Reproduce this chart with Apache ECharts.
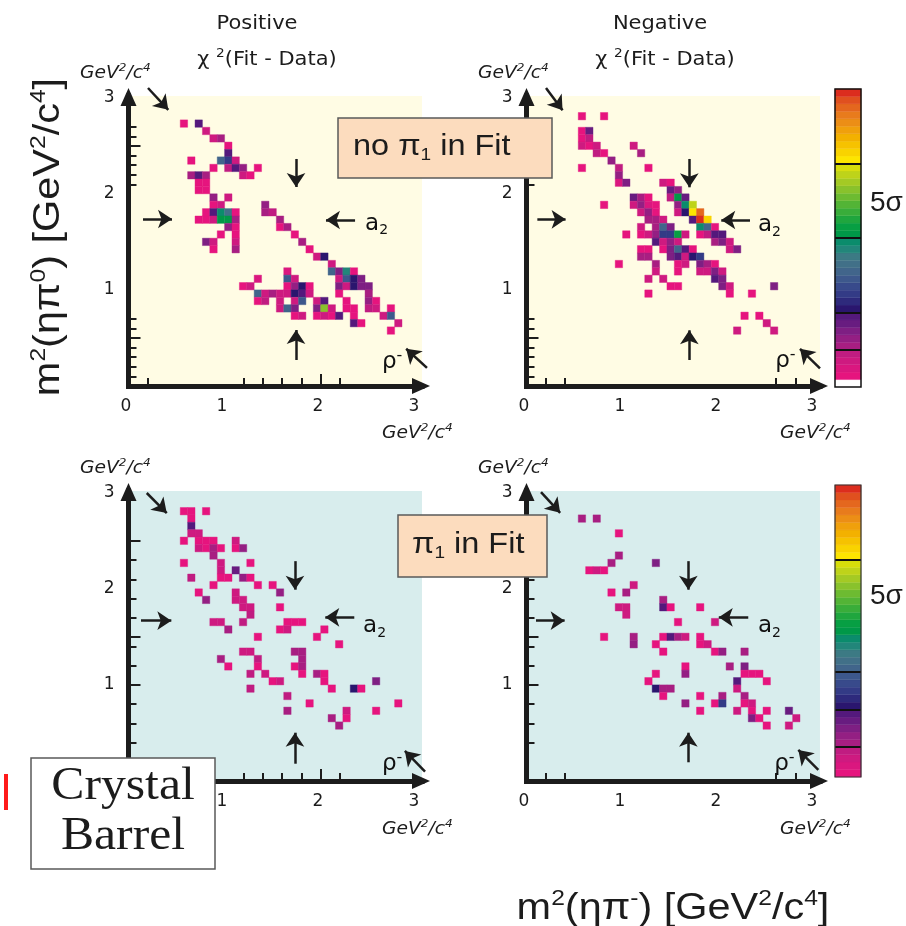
<!DOCTYPE html>
<html>
<head>
<meta charset="utf-8">
<title>Dalitz plot chi-square maps</title>
<script src="https://cdn.jsdelivr.net/npm/echarts@6.0.0/dist/echarts.min.js"></script>
<style>
  html, body { margin: 0; padding: 0; background: #ffffff; }
  #chart { width: 906px; height: 926px; }
</style>
</head>
<body>
<div id="chart"></div>
<script>
// Bin width of the Dalitz plot cells, in GeV^2/c^4
const BIN = 0.077;

// Colour scale, lowest level (white) first, highest (red) last
const palette = [
  '#ffffff',
  '#e6147e', '#da177f', '#ce1a80', '#c01c81',
  '#a81e82', '#941f83', '#7e1f83', '#681c80', '#54197c',
  '#2a166e', '#2e2a7c', '#333b86', '#384a8b', '#3d588c', '#41658b', '#417088', '#3c7a84', '#22867a', '#0b8c6c',
  '#009848', '#079f43', '#1fa63e', '#39ad3a', '#53b436', '#6dbb31', '#89c22c', '#a4ca24', '#bed31a', '#d7dd0b',
  '#fde500', '#f9d300', '#f6c200', '#f3b100', '#f0a00c', '#ec8e16', '#e87b1c', '#e4671e', '#e0501f', '#dc2d1e'
];

// Cells: [m²(ηπ⁻) bin, m²(ηπ⁰) bin, colour level]
const cellsPosNoPi1 = [
  [7,35,1],[9,35,9],
  [10,34,3],
  [11,33,3],[12,33,5],
  [13,32,1],
  [13,31,9],
  [8,30,1],[12,30,15],[13,30,12],[14,30,3],
  [11,29,1],[13,29,4],[14,29,9],[15,29,6],[17,29,1],
  [8,28,5],[9,28,9],[10,28,5],[15,28,3],[16,28,1],
  [9,27,1],[10,27,1],
  [9,26,1],[10,26,1],
  [11,25,6],[13,25,3],
  [11,24,1],[12,24,3],[18,24,6],
  [10,23,1],[11,23,9],[12,23,19],[13,23,16],[14,23,1],[18,23,5],[19,23,4],
  [9,22,1],[10,22,1],[11,22,3],[12,22,20],[13,22,20],[14,22,5],[20,22,5],
  [13,21,6],[14,21,1],[20,21,1],[21,21,5],
  [12,20,1],[14,20,1],[22,20,1],
  [10,19,7],[11,19,3],[14,19,3],[23,19,5],
  [11,18,1],[14,18,5],[24,18,1],
  [25,17,3],[26,17,10],
  [27,16,3],
  [21,15,2],[27,15,15],[28,15,7],[29,15,18],[30,15,1],
  [17,14,2],[21,14,14],[22,14,3],[28,14,3],[29,14,14],[30,14,10],[31,14,7],
  [15,13,1],[16,13,3],[21,13,1],[22,13,6],[23,13,10],[24,13,1],[28,13,7],[29,13,3],[30,13,10],[31,13,7],[32,13,7],
  [17,12,15],[18,12,3],[19,12,5],[20,12,3],[21,12,3],[22,12,10],[23,12,9],[24,12,3],[28,12,1],[32,12,5],
  [17,11,1],[18,11,4],[20,11,3],[22,11,3],[23,11,14],[25,11,3],[26,11,9],[29,11,1],[32,11,6],[33,11,1],
  [20,10,3],[21,10,15],[22,10,7],[25,10,7],[26,10,26],[27,10,3],[29,10,1],[30,10,1],[32,10,4],[33,10,3],[35,10,1],
  [22,9,1],[23,9,3],[25,9,1],[26,9,3],[27,9,1],[28,9,9],[30,9,1],[34,9,3],[35,9,14],
  [30,8,9],[31,8,1],[36,8,3],
  [35,7,1]
];

const cellsNegNoPi1 = [
  [7,36,1],[10,36,1],
  [7,34,1],[8,34,8],
  [7,33,1],[8,33,4],
  [7,32,3],[8,32,1],[9,32,3],[14,32,3],
  [9,31,4],[10,31,1],[15,31,5],
  [11,30,6],
  [7,29,1],[12,29,4],[16,29,1],
  [12,28,6],
  [12,27,2],[13,27,7],[18,27,3],[19,27,1],
  [19,26,8],[20,26,6],
  [14,25,8],[15,25,5],[16,25,1],[19,25,4],[20,25,20],[21,25,8],
  [10,24,1],[14,24,3],[15,24,6],[16,24,2],[17,24,1],[20,24,6],[21,24,19],[22,24,28],
  [15,23,3],[16,23,6],[17,23,1],[20,23,3],[21,23,10],[22,23,30],[23,23,37],
  [16,22,5],[17,22,5],[18,22,3],[22,22,9],[23,22,39],[24,22,31],
  [15,21,3],[17,21,5],[18,21,15],[19,21,7],[23,21,19],[24,21,15],[25,21,1],
  [13,20,1],[15,20,1],[16,20,3],[17,20,6],[18,20,12],[19,20,12],[20,20,21],[21,20,3],[23,20,1],[24,20,4],[25,20,9],[26,20,9],
  [17,19,9],[18,19,3],[19,19,6],[20,19,3],[25,19,5],[26,19,7],[27,19,3],
  [15,18,1],[16,18,1],[18,18,1],[19,18,7],[20,18,15],[21,18,9],[22,18,1],[27,18,3],[28,18,7],
  [15,17,5],[16,17,5],[19,17,7],[20,17,9],[21,17,3],[22,17,10],[23,17,12],
  [12,16,1],[17,16,5],[20,16,1],[21,16,3],[23,16,7],[24,16,5],[25,16,1],
  [17,15,3],[20,15,1],[23,15,3],[24,15,3],[25,15,7],[26,15,3],
  [16,14,3],[18,14,3],[25,14,9],[26,14,7],
  [19,13,1],[20,13,1],[26,13,7],[27,13,3],[33,13,7],
  [16,12,1],[27,12,1],[30,12,1],
  [29,9,1],[31,9,1],
  [32,8,3],
  [28,7,3],[33,7,3]
];

const cellsPosPi1 = [
  [7,36,1],[8,36,1],[10,36,1],
  [8,35,1],
  [8,34,9],
  [8,33,3],[9,33,3],
  [7,32,1],[9,32,1],[10,32,1],[11,32,1],[14,32,3],
  [9,31,3],[10,31,1],[11,31,5],[12,31,1],[14,31,1],[15,31,6],
  [11,30,5],
  [7,29,1],[12,29,3],[16,29,1],
  [12,28,3],[14,28,8],
  [8,27,4],[12,27,1],[13,27,1],[15,27,6],[16,27,1],
  [11,26,1],[17,26,1],[19,26,1],
  [9,25,1],[14,25,3],[20,25,6],
  [10,24,6],[14,24,3],[15,24,3],
  [15,23,3],[16,23,3],[20,23,1],
  [16,22,4],
  [11,21,3],[12,21,3],[15,21,4],[21,21,1],[22,21,1],[23,21,1],
  [13,20,5],[20,20,1],[21,20,3],[26,20,1],
  [17,19,1],[25,19,1],
  [28,18,1],
  [15,17,3],[16,17,3],[22,17,5],[23,17,5],
  [12,16,5],[17,16,4],[23,16,5],
  [13,15,1],[17,15,1],[22,15,1],[23,15,5],
  [16,14,4],[18,14,3],[23,14,1],[25,14,5],[26,14,1],
  [19,13,1],[20,13,3],[26,13,1],[33,13,7],
  [16,12,4],[27,12,1],[30,12,10],[31,12,1],
  [21,11,4],
  [24,10,1],[36,10,1],
  [21,9,5],[29,9,3],[33,9,1],
  [27,8,5],[29,8,1],
  [28,7,5]
];

const cellsNegPi1 = [
  [7,35,5],[9,35,5],
  [12,33,1],
  [12,30,5],
  [11,29,5],[17,29,7],
  [8,28,1],[9,28,3],[10,28,1],
  [14,26,3],
  [11,25,1],[13,25,5],
  [18,24,5],
  [12,23,3],[13,23,3],[18,23,9],[19,23,1],[23,23,1],
  [13,22,3],
  [20,21,1],[25,21,3],
  [10,19,1],[14,19,5],[18,19,1],[19,19,9],[20,19,5],[21,19,3],[23,19,1],
  [14,18,6],[17,18,1],[23,18,1],[24,18,3],
  [18,17,1],[25,17,1],[26,17,6],[29,17,5],
  [21,15,1],[27,15,5],[29,15,7],
  [17,14,1],[21,14,6],[29,14,1],[30,14,1],[31,14,1],
  [16,13,1],[28,13,9],[32,13,1],
  [17,12,10],[18,12,5],[19,12,5],[28,12,3],
  [18,11,1],[23,11,1],[26,11,5],[29,11,5],
  [21,10,6],[25,10,1],[26,10,12],[29,10,1],[30,10,3],
  [23,9,1],[28,9,3],[30,9,1],[32,9,1],[35,9,8],
  [30,8,7],[31,8,1],[36,8,3],
  [32,7,1],[35,7,3]
];

// Colour-bar levels and the black separators between sigma bands
const barLevelsTop = [0,1,2,3,4,5,6,7,8,9,10,11,12,13,14,15,16,17,18,19,20,21,22,23,24,25,26,27,28,29,30,31,32,33,34,35,36,37,38,39];
const barSeparatorsTop = [5, 10, 20, 30];
const barLevelsBottom = [1,2,3,4,5,6,7,8,9,10,11,12,13,14,15,16,17,18,19,20,21,22,23,24,25,26,27,28,29,30,31,32,33,34,35,36,37,38,39];
const barSeparatorsBottom = [5, 10, 15, 30];

// Axis label values and tick positions (GeV^2/c^4)
const xLabelValues = [0, 1, 2, 3];
const yLabelValues = [1, 2, 3];
const ticksPosNoPi1 = { xMinor: [0.2, 1.2, 1.4, 1.6, 1.8, 2.2], xMajor: [2.0],
  yMinor: [0.1, 0.2, 0.3, 0.4, 0.6, 0.7, 2.1, 2.2, 2.3, 2.4, 2.6, 2.7], yMajor: [0.5, 2.5] };
const ticksNegNoPi1 = { xMinor: [0.2, 0.4, 2.6, 2.8], xMajor: [],
  yMinor: [0.1, 0.2, 0.3, 0.4, 0.6, 0.7, 2.1, 2.2, 2.3, 2.4, 2.6, 2.7], yMajor: [0.5, 2.5] };
const ticksPosPi1 = { xMinor: [0.2, 1.2, 1.4, 1.6, 1.8, 2.2], xMajor: [2.0],
  yMinor: [0.4, 0.6, 0.8, 1.2, 1.4, 1.7, 1.9, 2.1, 2.3], yMajor: [1.0, 1.5, 2.5] };
const ticksNegPi1 = { xMinor: [0.2, 0.4, 2.6, 2.8], xMajor: [],
  yMinor: [0.4, 0.6, 0.8, 1.2, 1.4, 1.7, 1.9, 2.1, 2.3], yMajor: [1.0, 1.5, 2.5] };

// Arrows pointing at the bands: [x0, y0, xTip, yTip]
const arrowsPosNoPi1 = [
  [0.203, 3.104, 0.464, 2.823], [1.745, 2.365, 1.745, 2.0], [2.36, 1.729, 1.984, 1.729],
  [0.151, 1.74, 0.526, 1.74], [1.745, 0.271, 1.745, 0.656], [3.109, 0.188, 2.839, 0.438]
];
const arrowsNegNoPi1 = [
  [0.203, 3.104, 0.419, 2.813], [1.696, 2.365, 1.696, 1.997], [2.328, 1.729, 1.956, 1.729],
  [0.113, 1.736, 0.48, 1.736], [1.696, 0.271, 1.696, 0.653], [3.057, 0.184, 2.797, 0.438]
];
const arrowsPosPi1 = [
  [0.19, 3.0, 0.45, 2.74], [1.734, 2.29, 1.734, 1.92], [2.352, 1.705, 1.977, 1.705],
  [0.13, 1.67, 0.519, 1.67], [1.734, 0.18, 1.734, 0.576], [3.089, 0.097, 2.828, 0.365]
];
const arrowsNegPi1 = [
  [0.151, 3.01, 0.4, 2.74], [1.686, 2.29, 1.686, 1.92], [2.31, 1.705, 1.93, 1.705],
  [0.099, 1.67, 0.47, 1.67], [1.686, 0.195, 1.686, 0.576], [3.04, 0.115, 2.78, 0.375]
];

// Band name positions: a2 and rho-
const a2Labels = [[2.454, 1.69], [2.40, 1.677], [2.433, 1.615], [2.40, 1.615]];
const rhoLabels = [[2.63, 0.25], [2.58, 0.26], [2.63, 0.177], [2.57, 0.177]];

// ---- layout ----
const INK = '#1c1c1c';
const SANS = 'DejaVu Sans';
const PX = 96;                       // pixels per GeV^2/c^4
const X_MAX = 3.057, Y_MAX = 3.021;  // axis extents
const layout = [
  { ox: 128.5, oy: 386, bg: '#fffce4' },
  { ox: 526.5, oy: 386, bg: '#fffce4' },
  { ox: 128.5, oy: 781, bg: '#d8eded' },
  { ox: 526.5, oy: 781, bg: '#d8eded' }
];
const panels = [
  { cells: cellsPosNoPi1, ticks: ticksPosNoPi1, arrows: arrowsPosNoPi1 },
  { cells: cellsNegNoPi1, ticks: ticksNegNoPi1, arrows: arrowsNegNoPi1 },
  { cells: cellsPosPi1, ticks: ticksPosPi1, arrows: arrowsPosPi1 },
  { cells: cellsNegPi1, ticks: ticksNegPi1, arrows: arrowsNegPi1 }
];

const grid = layout.map(g => ({
  left: g.ox, top: g.oy - Y_MAX * PX, width: X_MAX * PX, height: Y_MAX * PX,
  show: true, backgroundColor: g.bg, borderWidth: 0, containLabel: false, outerBoundsMode: 'none'
}));
grid.push({ left: 835, top: 89, width: 26, height: 298, containLabel: false, outerBoundsMode: 'none' });
grid.push({ left: 835, top: 485, width: 26, height: 292, containLabel: false, outerBoundsMode: 'none' });

const axisLine = {
  show: true, onZero: false, symbol: ['none', 'triangle'], symbolSize: [16, 18], symbolOffset: [0, -1],
  lineStyle: { color: INK, width: 5, cap: 'square' }
};
const tickSet = (vals, len) => ({
  show: vals.length > 0, inside: true, length: len, customValues: vals, lineStyle: { color: INK, width: 2 }
});
const labelSet = (vals, margin) => ({
  show: true, customValues: vals, margin: margin, color: INK, fontSize: 17, fontFamily: SANS
});

const xAxis = [], yAxis = [];
panels.forEach((p, k) => {
  const xb = { gridIndex: k, type: 'value', min: 0, max: X_MAX, position: 'bottom', splitLine: { show: false } };
  const yb = { gridIndex: k, type: 'value', min: 0, max: Y_MAX, position: 'left', splitLine: { show: false } };
  xAxis.push(Object.assign({}, xb, { axisLine: axisLine, axisTick: tickSet(p.ticks.xMinor, 8),
    axisLabel: Object.assign(labelSet(xLabelValues, 12), { padding: [0, 5, 0, 0] }) }));
  xAxis.push(Object.assign({}, xb, { axisLine: { show: false }, axisTick: tickSet(p.ticks.xMajor, 12), axisLabel: { show: false } }));
  yAxis.push(Object.assign({}, yb, { axisLine: axisLine, axisTick: tickSet(p.ticks.yMinor, 8),
    axisLabel: labelSet(yLabelValues, 14) }));
  yAxis.push(Object.assign({}, yb, { axisLine: { show: false }, axisTick: tickSet(p.ticks.yMajor, 12), axisLabel: { show: false } }));
});
// colour bars
xAxis.push({ gridIndex: 4, type: 'value', min: 0, max: 1, show: false });
xAxis.push({ gridIndex: 5, type: 'value', min: 0, max: 1, show: false });
yAxis.push({ gridIndex: 4, type: 'value', min: 0, max: 40, show: false });
yAxis.push({ gridIndex: 5, type: 'value', min: 1, max: 40, show: false });

function renderCell(params, api) {
  const x = api.value(0), y = api.value(1), lvl = api.value(2);
  const p0 = api.coord([x, y + BIN]);
  const p1 = api.coord([x + BIN, y]);
  return {
    type: 'rect',
    shape: { x: p0[0], y: p0[1], width: p1[0] - p0[0], height: p1[1] - p0[1] },
    style: { fill: palette[lvl], stroke: palette[lvl], lineWidth: 0.4 }
  };
}
function renderBand(params, api) {
  const lvl = api.value(1);
  const p0 = api.coord([0, lvl + 1]);
  const p1 = api.coord([1, lvl]);
  return {
    type: 'rect',
    shape: { x: p0[0], y: p0[1], width: p1[0] - p0[0], height: p1[1] - p0[1] },
    style: { fill: palette[lvl], stroke: palette[lvl], lineWidth: 0.4 }
  };
}
// arrow head is centred on its end point, so step back half a head length
const HEAD = 14;
function headCentre(a) {
  const dx = a[2] - a[0], dy = a[3] - a[1];
  const len = Math.sqrt(dx * dx + dy * dy) * PX;
  const back = (HEAD / 2) / len;
  return [a[2] - dx * back, a[3] - dy * back];
}

const bandLabel = {
  show: true, position: 'right', distance: 0, color: '#111111', opacity: 1,
  fontSize: 23, fontFamily: SANS, lineHeight: 28, textBorderWidth: 0,
  rich: {
    s: { fontSize: 14, lineHeight: 14, verticalAlign: 'bottom', fontFamily: SANS, color: '#111111' },
    p: { fontSize: 16, lineHeight: 16, verticalAlign: 'top', fontFamily: SANS, color: '#111111' }
  }
};

const series = [];
panels.forEach((p, k) => {
  series.push({
    type: 'custom', xAxisIndex: 2 * k, yAxisIndex: 2 * k, renderItem: renderCell, silent: true, z: 3,
    encode: { x: 0, y: 1 }, clip: false,
    data: p.cells.map(c => [c[0] * BIN, c[1] * BIN, c[2]])
  });
  series.push({
    type: 'lines', coordinateSystem: 'cartesian2d', xAxisIndex: 2 * k, yAxisIndex: 2 * k,
    silent: true, clip: false, z: 4, symbol: ['none', 'arrow'], symbolSize: HEAD,
    lineStyle: { color: INK, width: 2.5, opacity: 1, curveness: 0 },
    data: p.arrows.map(a => ({ coords: [[a[0], a[1]], headCentre(a)] }))
  });
  series.push({
    type: 'scatter', xAxisIndex: 2 * k, yAxisIndex: 2 * k, silent: true, z: 5,
    symbol: 'circle', symbolSize: 2,
    itemStyle: { color: 'rgba(0,0,0,0)', opacity: 1 },
    label: bandLabel,
    data: [
      { value: a2Labels[k], label: Object.assign({}, bandLabel, { formatter: 'a{s|2}' }) },
      { value: rhoLabels[k], label: Object.assign({}, bandLabel, { formatter: 'ρ{p|-}' }) }
    ]
  });
});
[[barLevelsTop, barSeparatorsTop, 8], [barLevelsBottom, barSeparatorsBottom, 9]].forEach(([levels, seps, idx]) => {
  series.push({
    type: 'custom', xAxisIndex: idx, yAxisIndex: idx, renderItem: renderBand, silent: true, z: 3,
    encode: { x: 0, y: 1 }, data: levels.map(l => [0, l])
  });
  series.push({
    type: 'lines', coordinateSystem: 'cartesian2d', xAxisIndex: idx, yAxisIndex: idx, silent: true, clip: false, z: 4,
    symbol: ['none', 'none'], lineStyle: { color: '#111111', width: 2, opacity: 1 },
    data: seps.map(v => ({ coords: [[0, v], [1, v]] }))
  });
});

// ---- text and frames ----
function text(x, y, str, size, extra) {
  extra = extra || {};
  return Object.assign({
    type: 'text', x: x, y: y, z: 120, silent: true,
    style: Object.assign({
      text: str, fill: INK, fontSize: size, fontFamily: SANS, align: 'center', verticalAlign: 'middle'
    }, extra.style || {})
  }, extra.el || {});
}
const sup = (size, family, style) => ({ fontSize: size, lineHeight: size, verticalAlign: 'top', fontFamily: family, fontStyle: style || 'normal', fill: INK });
const sub = (size, family) => ({ fontSize: size, lineHeight: size, verticalAlign: 'bottom', fontFamily: family, fill: INK });

const unitStyle = { align: 'left', fontStyle: 'italic', lineHeight: 22, rich: { s: sup(11, SANS, 'italic') } };
const unitPos = [[80, 74], [478, 74], [80, 469], [478, 469], [382, 434], [780, 434], [382, 830], [780, 830]];

const graphic = [];
graphic.push(text(257, 24, 'Positive', 20, { el: { scaleX: 1.05 } }));
graphic.push(text(267, 60, 'χ {s|2}(Fit - Data)', 20, { style: { lineHeight: 26, rich: { s: sup(13, SANS) } }, el: { scaleX: 1.05 } }));
graphic.push(text(660, 24, 'Negative', 20, { el: { scaleX: 1.05 } }));
graphic.push(text(665, 60, 'χ {s|2}(Fit - Data)', 20, { style: { lineHeight: 26, rich: { s: sup(13, SANS) } }, el: { scaleX: 1.05 } }));
unitPos.forEach(u => graphic.push(text(u[0], u[1], 'GeV{s|2}/c{s|4}', 17, { style: unitStyle, el: { scaleX: 1.1 } })));

// axis titles
const bigRich = { s: sup(22, 'Liberation Sans') };
graphic.push(text(49, 237, 'm{s|2}(ηπ{s|0}) [GeV{s|2}/c{s|4}]', 37, {
  style: { fontFamily: 'Liberation Sans', lineHeight: 42, rich: bigRich },
  el: { rotation: Math.PI / 2, scaleX: 1.12 }
}));
graphic.push(text(673, 909, 'm{s|2}(ηπ{s|-}) [GeV{s|2}/c{s|4}]', 37, {
  style: { fontFamily: 'Liberation Sans', lineHeight: 42, rich: bigRich },
  el: { scaleX: 1.12 }
}));

// fit condition boxes
graphic.push({ type: 'rect', z: 110, silent: true, shape: { x: 338, y: 118, width: 214, height: 60 },
  style: { fill: '#fcdcbe', stroke: '#5a5a5a', lineWidth: 1.5 } });
graphic.push(text(353, 147, 'no π{b|1} in Fit', 29, {
  style: { align: 'left', fontFamily: 'Liberation Sans', lineHeight: 34, rich: { b: sub(17, 'Liberation Sans') } },
  el: { scaleX: 1.12 }
}));
graphic.push({ type: 'rect', z: 110, silent: true, shape: { x: 398, y: 515, width: 149, height: 62 },
  style: { fill: '#fcdcbe', stroke: '#5a5a5a', lineWidth: 1.5 } });
graphic.push(text(412, 545, 'π{b|1} in Fit', 29, {
  style: { align: 'left', fontFamily: 'Liberation Sans', lineHeight: 34, rich: { b: sub(17, 'Liberation Sans') } },
  el: { scaleX: 1.12 }
}));

// colour bar frames and sigma labels
graphic.push({ type: 'rect', z: 110, silent: true, shape: { x: 835, y: 89, width: 26, height: 298 },
  style: { fill: 'none', stroke: '#111111', lineWidth: 1.5 } });
graphic.push({ type: 'rect', z: 110, silent: true, shape: { x: 835, y: 485, width: 26, height: 292 },
  style: { fill: 'none', stroke: '#333333', lineWidth: 1.2 } });
graphic.push(text(870, 203, '5σ', 28, { style: { align: 'left', fontFamily: 'Liberation Sans' } }));
graphic.push(text(870, 596, '5σ', 28, { style: { align: 'left', fontFamily: 'Liberation Sans' } }));

// experiment label
graphic.push({ type: 'rect', z: 110, silent: true, shape: { x: 31, y: 758, width: 184, height: 111 },
  style: { fill: '#ffffff', stroke: '#5a5a5a', lineWidth: 1.5 } });
graphic.push(text(123, 787, 'Crystal', 46, { style: { fontFamily: 'Liberation Serif' }, el: { scaleX: 1.08 } }));
graphic.push(text(123, 837, 'Barrel', 46, { style: { fontFamily: 'Liberation Serif' }, el: { scaleX: 1.08 } }));
graphic.push({ type: 'line', z: 110, silent: true, shape: { x1: 6, y1: 774, x2: 6, y2: 810 },
  style: { stroke: '#ff1a1a', lineWidth: 4 } });

const chart = echarts.init(document.getElementById('chart'), null, { renderer: 'canvas' });
chart.setOption({
  backgroundColor: '#ffffff',
  animation: false,
  grid: grid,
  xAxis: xAxis,
  yAxis: yAxis,
  series: series,
  graphic: graphic
});
</script>
</body>
</html>
